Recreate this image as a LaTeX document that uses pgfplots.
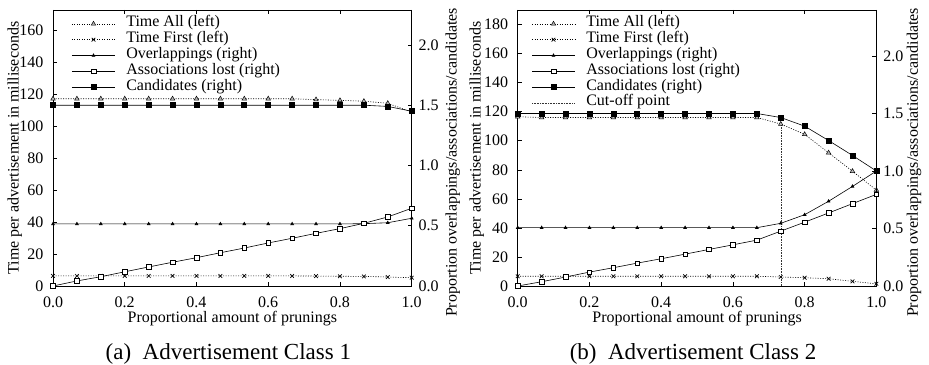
\documentclass[border=0pt]{standalone}
\usepackage{fontspec}
\setmainfont{Liberation Serif}
\usepackage{pgfplots}
\usepackage{pgfplotstable}
\pgfplotsset{compat=1.18}
\newcommand\fs{\fontsize{16bp}{19bp}\selectfont}
\newcommand\fc{\fontsize{23bp}{27bp}\selectfont}

\pgfplotstableread{
x ta tf ov as ca
0 117 6.3 0.515 0 1.5
0.0667 117 6.3 0.515 0.042 1.5
0.1333 117 6.3 0.515 0.077 1.5
0.2 117 6.3 0.515 0.118 1.5
0.2667 117 6.3 0.515 0.158 1.5
0.3333 117 6.3 0.515 0.197 1.5
0.4 117 6.3 0.515 0.235 1.5
0.4667 117 6.3 0.515 0.276 1.5
0.5333 117 6.3 0.515 0.315 1.5
0.6 117 6.3 0.515 0.357 1.5
0.6667 117 6.3 0.515 0.396 1.5
0.7333 116.5 6.2 0.515 0.437 1.5
0.8 116 6.1 0.515 0.476 1.5
0.8667 115.5 6.0 0.517 0.520 1.5
0.9333 114.2 5.6 0.525 0.573 1.49
1 108.7 5.2 0.562 0.645 1.45
}\dataA

\pgfplotstableread{
x ta tf ov as ca
0 116.5 6.7 0.507 0 1.5
0.0667 116 6.7 0.507 0.037 1.5
0.1333 116 6.7 0.507 0.078 1.5
0.2 116 6.7 0.507 0.121 1.5
0.2667 116 6.7 0.507 0.159 1.5
0.3333 116 6.7 0.507 0.199 1.5
0.4 116 6.7 0.507 0.237 1.5
0.4667 116 6.7 0.507 0.277 1.5
0.5333 116 6.7 0.507 0.318 1.5
0.6 116 6.7 0.507 0.358 1.5
0.6667 116 6.7 0.507 0.399 1.5
0.7333 111.5 6.2 0.545 0.477 1.465
0.8 104.4 5.7 0.62 0.555 1.39
0.8667 91.7 5.0 0.737 0.635 1.265
0.9333 79 3.2 0.866 0.716 1.135
1 66 1.5 1.0 0.797 1.0
}\dataB

\pgfplotsset{
  timeall/.style={black, line width=0.6pt, dash pattern=on 1bp off 1.5bp, mark=triangle*, mark size=2.6bp, mark options={solid, fill=gray!55, draw=black, line width=0.5pt}},
  timefirst/.style={black, line width=0.6pt, dash pattern=on 1bp off 1.5bp, mark=x, mark size=2.6bp, mark options={solid, line width=0.7pt}},
  overl/.style={black, line width=0.6pt, mark=triangle*, mark size=1.6bp, mark options={solid}},
  assoc/.style={black, line width=0.6pt, mark=square*, mark size=2.3bp, mark options={solid, fill=white, line width=0.5pt}},
  cand/.style={black, line width=0.6pt, mark=square*, mark size=2.5bp, mark options={solid}},
  cutoff/.style={black!80, line width=0.4pt, dash pattern=on 0.8bp off 0.8bp},
  base/.style={
    scale only axis, width=358.7bp, height=276bp,
    xmin=0, xmax=1, clip=false,
    xtick={0,0.2,0.4,0.6,0.8,1},
    /pgf/number format/assume math mode=true,
    xticklabel style={/pgf/number format/fixed, /pgf/number format/fixed zerofill, /pgf/number format/precision=1},
    tick align=inside, major tick length=4bp,
    tick style={black, line width=0.5pt},
    axis line style={line width=0.8pt},
    tick label style={font=\fs},
    label style={font=\fs},
    legend style={font=\fs},
  },
  leftax/.style={base,
    ytick pos=left,
    xticklabel style={yshift=-7bp},
    yticklabel style={xshift=-6bp},
    xlabel={Proportional amount of prunings},
    xlabel style={at={(axis description cs:0.5,0)}, anchor=base, yshift=-36.7bp},
    ylabel={Time per advertisement in milliseconds},
    legend cell align=left,
    legend image code/.code={\draw[mark repeat=2,mark phase=2,##1] plot coordinates {(0bp,0bp) (21.5bp,0bp) (43bp,0bp)};},
  },
  rightax/.style={base,
    hide x axis, axis y line*=right,
    ytick={0,0.5,1,1.5,2},
    yticklabel style={xshift=3.5bp, /pgf/number format/fixed, /pgf/number format/fixed zerofill, /pgf/number format/precision=1},
    ylabel={Proportion overlappings/associations/candidates},
  },
}

\begin{document}
\begin{tikzpicture}
\useasboundingbox (0,0) rectangle (929bp,365bp);
% ---------- (a) ----------
\begin{axis}[leftax, name=a1, at={(53bp,79bp)}, anchor=south west,
  ymin=0, ymax=172.5, ytick={0,20,...,160},
  ylabel style={at={([xshift=-34.3bp]axis description cs:0,0.5)}, anchor=base},
  legend style={draw=none, fill=none, inner sep=0pt, outer sep=0pt,
    at={(axis description cs:0,1)}, anchor=north west, xshift=18.7bp, yshift=-6bp,
    row sep=0pt, column sep=11bp,
    nodes={inner sep=0pt, text height=11bp, text depth=4.8bp}},
]
\addplot[timeall] table[x=x, y=ta] {\dataA};
\addplot[timefirst] table[x=x, y=tf] {\dataA};
\addlegendimage{overl}
\addlegendimage{assoc}
\addlegendimage{cand}
\legend{Time All (left), Time First (left), Overlappings (right), Associations lost (right), Candidates (right)}
\end{axis}
\begin{axis}[rightax, at={(53bp,79bp)}, anchor=south west,
  ymin=0, ymax=2.29,
  ylabel style={at={([xshift=45bp]axis description cs:1,0.4475)}, anchor=base},
]
\addplot[overl] table[x=x, y=ov] {\dataA};
\addplot[assoc] table[x=x, y=as] {\dataA};
\addplot[cand] table[x=x, y=ca] {\dataA};
\end{axis}
\node[font=\fc, anchor=base] at ([xshift=-4bp, yshift=-73.5bp]a1.south) {(a)\ \ Advertisement Class 1};
% ---------- (b) ----------
\begin{axis}[leftax, name=b1, at={(517.7bp,79bp)}, anchor=south west,
  ymin=0, ymax=190, ytick={0,20,...,180},
  ylabel style={at={([xshift=-37bp]axis description cs:0,0.5)}, anchor=base},
  legend style={draw=none, fill=none, inner sep=0pt, outer sep=0pt,
    at={(axis description cs:0,1)}, anchor=north west, xshift=14bp, yshift=-6bp,
    row sep=0pt, column sep=11bp,
    nodes={inner sep=0pt, text height=11bp, text depth=4.8bp}},
]
\addplot[timeall] table[x=x, y=ta] {\dataB};
\addplot[timefirst] table[x=x, y=tf] {\dataB};
\addlegendimage{overl}
\addlegendimage{assoc}
\addlegendimage{cand}
\addplot[cutoff] coordinates {(0.7333,0) (0.7333,111.5)};
\legend{Time All (left), Time First (left), Overlappings (right), Associations lost (right), Candidates (right), Cut-off point}
\end{axis}
\begin{axis}[rightax, at={(517.7bp,79bp)}, anchor=south west,
  ymin=0, ymax=2.40,
  ylabel style={at={([xshift=41.5bp]axis description cs:1,0.4475)}, anchor=base},
]
\addplot[overl] table[x=x, y=ov] {\dataB};
\addplot[assoc] table[x=x, y=as] {\dataB};
\addplot[cand] table[x=x, y=ca] {\dataB};
\end{axis}
\node[font=\fc, anchor=base] at ([xshift=-4bp, yshift=-73.5bp]b1.south) {(b)\ \ Advertisement Class 2};
\end{tikzpicture}
\end{document}
